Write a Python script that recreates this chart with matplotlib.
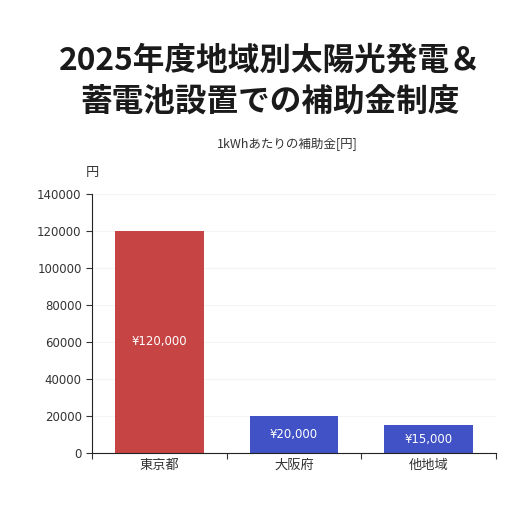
import matplotlib.pyplot as plt

plt.rcParams['font.family'] = ['Noto Sans CJK JP', 'DejaVu Sans']

# data
regions = ["東京都", "大阪府", "他地域"]
subsidy = [120000, 20000, 15000]
bar_labels = ["¥120,000", "¥20,000", "¥15,000"]
bar_colors = ["#c64444", "#4052c6", "#4052c6"]
yticks = [0, 20000, 40000, 60000, 80000, 100000, 120000, 140000]

fig = plt.figure(figsize=(5.29, 5.07), dpi=100)
ax = fig.add_axes([0.174, 0.1065, 0.7636, 0.5109])

x = range(len(regions))
bars = ax.bar(x, subsidy, width=0.66, color=bar_colors, zorder=2)
for b, lab in zip(bars, bar_labels):
    ax.text(b.get_x() + b.get_width() / 2, b.get_height() / 2, lab,
            ha="center", va="center", color="white", fontsize=8.5,
            family=["DejaVu Sans"])

ax.set_xlim(-0.5, 2.5)
ax.set_ylim(0, 140000)
ax.set_yticks(yticks)
ax.set_yticklabels([str(v) for v in yticks], family=["DejaVu Sans"])
ax.tick_params(axis="y", labelsize=8.5, length=4, colors="#333333", labelcolor="#333333")
ax.yaxis.grid(True, color="#f4f4f4", lw=0.8, zorder=0)

# ticks at category boundaries, labels in the middle
ax.set_xticks([-0.5, 0.5, 1.5, 2.5])
ax.set_xticklabels([])
ax.set_xticks(list(x), minor=True)
ax.set_xticklabels(regions, minor=True, fontsize=9.5, color="#333333")
ax.tick_params(axis="x", which="major", length=4, color="#333333")
ax.tick_params(axis="x", which="minor", length=0, pad=4)

for s in ["top", "right"]:
    ax.spines[s].set_visible(False)
ax.spines["left"].set_color("#222222")
ax.spines["bottom"].set_color("#222222")

ax.text(-0.015, 1.083, "円", transform=ax.transAxes, fontsize=9.5, color="#333333",
        ha="left", va="center")

fig.text(0.51, 0.84, "2025年度地域別太陽光発電＆\n蓄電池設置での補助金制度",
         ha="center", va="center", fontsize=22.8, fontweight="bold",
         color="#1a1a1a", linespacing=1.32)
fig.text(0.544, 0.714, "1kWhあたりの補助金[円]", ha="center", va="center",
         fontsize=9, color="#333333")

fig.savefig("out.png", dpi=100)
